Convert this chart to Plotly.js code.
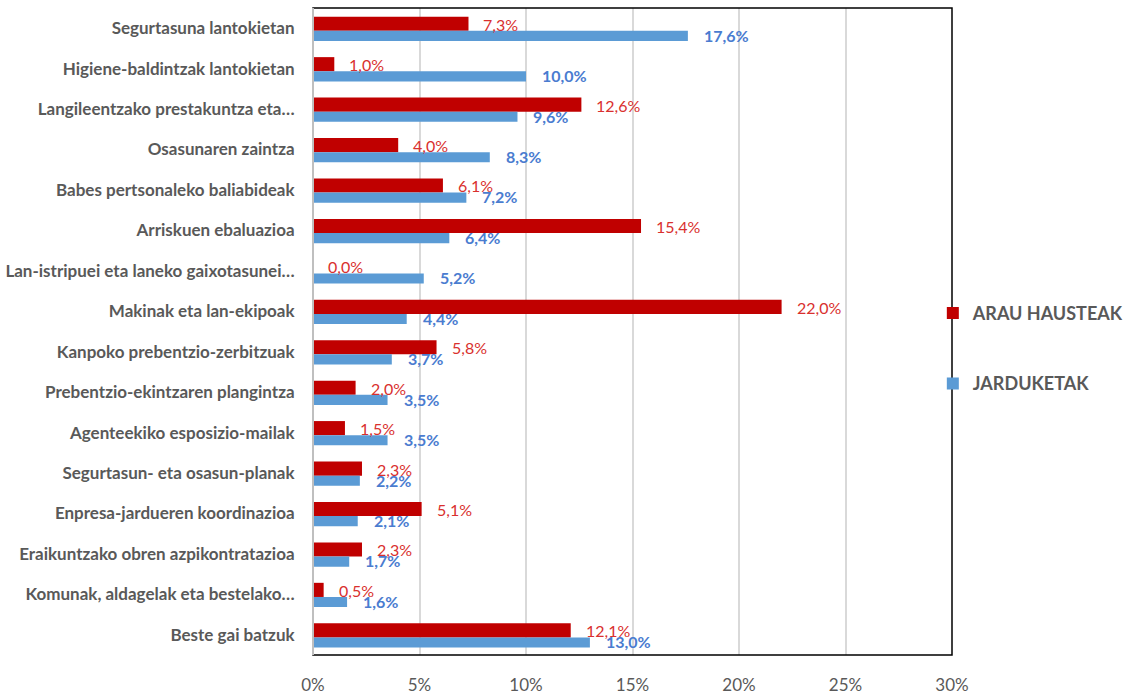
<!DOCTYPE html>
<html>
<head>
<meta charset="utf-8">
<script src="https://cdn.plot.ly/plotly-3.0.1.min.js"></script>
<style>html,body{margin:0;padding:0;background:#fff;}#chart{width:1133px;height:695px;}</style>
</head>
<body>
<div id="chart"></div>
<script>
const categories = [
  "Segurtasuna lantokietan",
  "Higiene-baldintzak lantokietan",
  "Langileentzako prestakuntza eta…",
  "Osasunaren zaintza",
  "Babes pertsonaleko baliabideak",
  "Arriskuen ebaluazioa",
  "Lan-istripuei eta laneko gaixotasunei…",
  "Makinak eta lan-ekipoak",
  "Kanpoko prebentzio-zerbitzuak",
  "Prebentzio-ekintzaren plangintza",
  "Agenteekiko esposizio-mailak",
  "Segurtasun- eta osasun-planak",
  "Enpresa-jardueren koordinazioa",
  "Eraikuntzako obren azpikontratazioa",
  "Komunak, aldagelak eta bestelako…",
  "Beste gai batzuk"
];
const arauHausteak = [7.3, 1.0, 12.6, 4.0, 6.1, 15.4, 0.0, 22.0, 5.8, 2.0, 1.5, 2.3, 5.1, 2.3, 0.5, 12.1];
const jarduketak   = [17.6, 10.0, 9.6, 8.3, 7.2, 6.4, 5.2, 4.4, 3.7, 3.5, 3.5, 2.2, 2.1, 1.7, 1.6, 13.0];
const xTicks = [0, 5, 10, 15, 20, 25, 30];

const fmt = v => v.toFixed(1).replace('.', ',') + '%';
const RED = '#c00000', BLUE = '#5b9bd5';
const FONT = 'Lato, "Open Sans", sans-serif';

const traces = [
  {
    type: 'bar', orientation: 'h', name: 'ARAU HAUSTEAK',
    x: arauHausteak, y: categories,
    marker: {color: RED}, offset: -0.285, width: 0.35,
    legendgroup: 'a', hoverinfo: 'x+y'
  },
  {
    type: 'bar', orientation: 'h', name: 'JARDUKETAK',
    x: jarduketak, y: categories,
    marker: {color: BLUE}, offset: 0.065, width: 0.25,
    legendgroup: 'b', hoverinfo: 'x+y'
  }
];

const annotations = [];
categories.forEach((c, i) => {
  annotations.push({
    x: arauHausteak[i], y: c, xref: 'x', yref: 'y',
    text: fmt(arauHausteak[i]), showarrow: false,
    xanchor: 'left', yanchor: 'middle', xshift: 13, yshift: 4,
    font: {family: FONT, size: 16, color: '#d9302e'}
  });
  annotations.push({
    x: jarduketak[i], y: c, xref: 'x', yref: 'y',
    text: '<b>' + fmt(jarduketak[i]) + '</b>', showarrow: false,
    xanchor: 'left', yanchor: 'middle', xshift: 14, yshift: -7,
    font: {family: FONT, size: 16, color: '#4a7cd0'}
  });
});

const layout = {
  width: 1133, height: 695,
  margin: {l: 313, r: 181, t: 8, b: 40, autoexpand: false},
  paper_bgcolor: '#fff', plot_bgcolor: '#fff',
  barmode: 'overlay',
  showlegend: true,
  legend: {
    x: 0.97, y: 0.474, xanchor: 'left', yanchor: 'middle',
    bgcolor: 'rgba(0,0,0,0)', tracegroupgap: 44,
    font: {family: FONT, size: 18, color: '#595959', weight: 'bold'}
  },
  xaxis: {
    range: [0, 30], tickvals: xTicks, ticktext: xTicks.map(v => v + '%'),
    showgrid: true, gridcolor: '#d9d9d9', gridwidth: 2,
    zeroline: false, showline: false,
    ticks: 'outside', ticklen: 15, tickcolor: 'rgba(0,0,0,0)',
    tickfont: {family: FONT, size: 17, color: '#595959'},
    fixedrange: true, automargin: false
  },
  yaxis: {
    type: 'category', autorange: 'reversed',
    showgrid: false, zeroline: false, showline: false,
    ticks: 'outside', ticklen: 14, tickcolor: 'rgba(0,0,0,0)',
    tickfont: {family: FONT, size: 17, color: '#595959', weight: 'bold'},
    fixedrange: true, automargin: false
  },
  shapes: [
    {type: 'rect', xref: 'paper', yref: 'paper', x0: 0, x1: 1, y0: 0, y1: 1,
     line: {color: '#000', width: 1.5}, layer: 'above'},
    {type: 'line', xref: 'paper', yref: 'paper', x0: 0, x1: 0, y0: 0, y1: 1,
     line: {color: '#bfbfbf', width: 2}, layer: 'above'}
  ],
  annotations: annotations
};

Plotly.newPlot('chart', traces, layout, {displayModeBar: false, staticPlot: true});
</script>
</body>
</html>
